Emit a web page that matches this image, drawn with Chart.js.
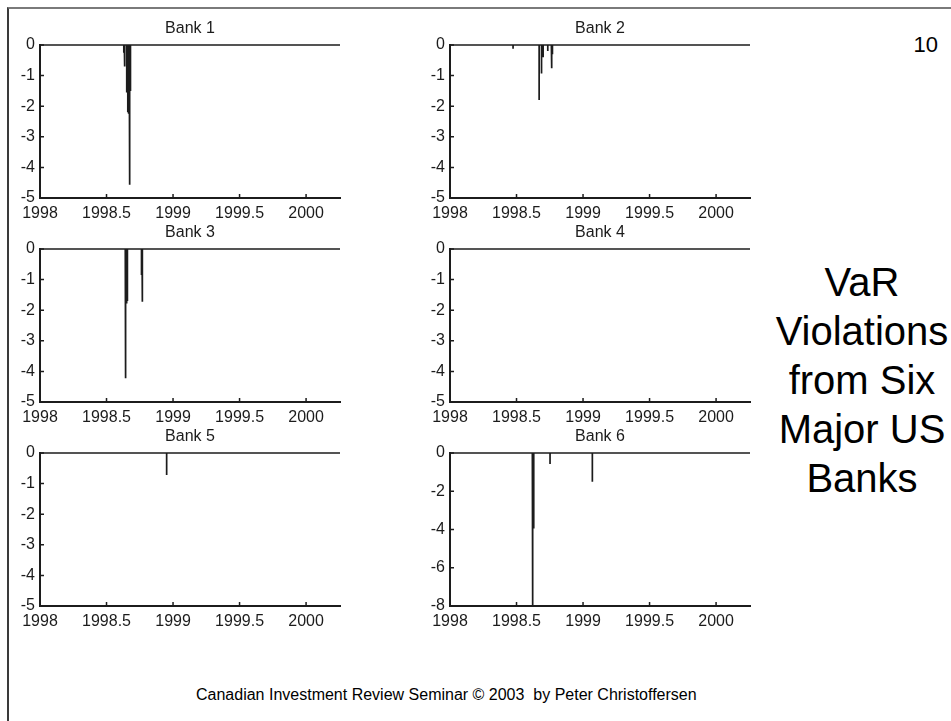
<!DOCTYPE html>
<html>
<head>
<meta charset="utf-8">
<title>VaR Violations from Six Major US Banks</title>
<script src="https://cdn.jsdelivr.net/npm/chart.js@4/dist/chart.umd.min.js"></script>
<style>
  html, body { margin: 0; padding: 0; background: #fff; }
  body { width: 951px; height: 721px; position: relative; overflow: hidden;
         font-family: "Liberation Sans", Arial, Helvetica, sans-serif; color: #000; }
  .frame { position: absolute; left: 7px; top: 7px; width: 1000px; height: 800px;
           border-top: 2px solid #7a7a7a; border-left: 2px solid #3a3a3a; }
  .panel { position: absolute; width: 350px; height: 207px; }
  .pageno { position: absolute; left: 880px; width: 58px; top: 34px; font-size: 22px;
            line-height: 22px; text-align: right; }
  .heading { position: absolute; left: 762px; width: 200px; top: 258px; font-size: 40px;
             line-height: 49px; text-align: center; }
  .footer { position: absolute; left: 196px; top: 686px; font-size: 16px; line-height: 18px;
            white-space: pre; }
</style>
</head>
<body>
<div class="frame"></div>
<div class="pageno">10</div>
<div class="heading">VaR<br>Violations<br>from Six<br>Major US<br>Banks</div>
<div class="footer">Canadian Investment Review Seminar © 2003  by Peter Christoffersen</div>

<canvas id="bank1" class="panel" width="350" height="207" style="left:0px;top:15px"></canvas>
<canvas id="bank2" class="panel" width="350" height="207" style="left:410px;top:15px"></canvas>
<canvas id="bank3" class="panel" width="350" height="207" style="left:0px;top:219px"></canvas>
<canvas id="bank4" class="panel" width="350" height="207" style="left:410px;top:219px"></canvas>
<canvas id="bank5" class="panel" width="350" height="207" style="left:0px;top:423px"></canvas>
<canvas id="bank6" class="panel" width="350" height="207" style="left:410px;top:423px"></canvas>

<script>
// Sample period (fractional years) and axis ticks
const sampleStart = 1998.0;
const sampleEnd = 2000.255;
const xTicks = [1998, 1998.5, 1999, 1999.5, 2000];
const yTicksFive = [-5, -4, -3, -2, -1, 0];
const yTicksEight = [-8, -6, -4, -2, 0];

// Days on which the trading loss exceeded the reported VaR, and the size of the violation
const bank1Dates  = [1998.630, 1998.634, 1998.638, 1998.652, 1998.660, 1998.664, 1998.668, 1998.671, 1998.676, 1998.680];
const bank1Values = [-0.25, -0.70, -0.45, -1.55, -2.20, -1.90, -2.25, -4.57, -2.20, -1.50];

const bank2Dates  = [1998.474, 1998.670, 1998.688, 1998.700, 1998.735, 1998.762, 1998.766, 1998.770];
const bank2Values = [-0.12, -1.80, -0.93, -0.40, -0.20, -0.35, -0.76, -0.30];

const bank3Dates  = [1998.641, 1998.645, 1998.649, 1998.653, 1998.657, 1998.763, 1998.767, 1998.771];
const bank3Values = [-1.80, -4.22, -1.75, -1.78, -1.70, -0.85, -1.72, -0.80];

const bank4Dates  = [];
const bank4Values = [];

const bank5Dates  = [1998.952];
const bank5Values = [-0.72];

const bank6Dates  = [1998.619, 1998.623, 1998.627, 1998.631, 1998.752, 1999.070];
const bank6Values = [-3.95, -7.95, -3.90, -3.95, -0.57, -1.50];

const bankNames = ['Bank 1', 'Bank 2', 'Bank 3', 'Bank 4', 'Bank 5', 'Bank 6'];

const FONT = '"Liberation Sans", Arial, Helvetica, sans-serif';
const INK = '#1c1c1c';

// Daily violation series: zero everywhere except on the violation days
function violationSeries(dates, values) {
  const order = dates.map((d, i) => i).sort((a, b) => dates[a] - dates[b]);
  const pts = [{ x: sampleStart, y: 0 }];
  order.forEach(i => {
    pts.push({ x: dates[i], y: 0 });
    pts.push({ x: dates[i], y: values[i] });
    pts.push({ x: dates[i], y: 0 });
  });
  pts.push({ x: sampleEnd, y: 0 });
  return pts;
}

// Short tick marks drawn inward from the left and bottom axes
const inwardTicks = {
  id: 'inwardTicks',
  afterDatasetsDraw(chart) {
    const { ctx, chartArea, scales } = chart;
    ctx.save();
    ctx.strokeStyle = INK;
    ctx.lineWidth = 1.5;
    ctx.beginPath();
    scales.x.ticks.forEach(t => {
      const px = scales.x.getPixelForValue(t.value);
      ctx.moveTo(px, chartArea.bottom);
      ctx.lineTo(px, chartArea.bottom - 4);
    });
    scales.y.ticks.forEach(t => {
      const py = scales.y.getPixelForValue(t.value);
      ctx.moveTo(chartArea.left, py);
      ctx.lineTo(chartArea.left + 4, py);
    });
    ctx.stroke();
    ctx.restore();
  }
};

function makePanel(id, name, dates, values, yTicks) {
  new Chart(document.getElementById(id), {
    type: 'line',
    data: {
      datasets: [{
        label: name,
        data: violationSeries(dates, values),
        borderColor: INK,
        borderWidth: 1.7,
        pointRadius: 0,
        tension: 0,
        fill: false,
        clip: false
      }]
    },
    options: {
      responsive: false,
      animation: false,
      devicePixelRatio: 1,
      layout: { padding: { left: 0, right: 10, top: 0, bottom: 0 }, autoPadding: false },
      plugins: {
        legend: { display: false },
        tooltip: { enabled: false },
        title: {
          display: true,
          text: name,
          fullSize: false,
          color: INK,
          font: { family: FONT, size: 16, weight: 'normal', lineHeight: 1.25 },
          padding: { top: 4, bottom: 6 }
        }
      },
      scales: {
        x: {
          type: 'linear',
          min: sampleStart,
          max: sampleEnd,
          afterBuildTicks: s => { s.ticks = xTicks.map(v => ({ value: v })); },
          afterFit: s => { s.height = 24; },
          grid: { display: true, drawOnChartArea: false, drawTicks: false },
          border: { display: true, color: INK, width: 2 },
          ticks: {
            color: INK,
            padding: 6,
            maxRotation: 0,
            autoSkip: false,
            font: { family: FONT, size: 16 },
            callback: v => String(v)
          }
        },
        y: {
          type: 'linear',
          min: yTicks[0],
          max: yTicks[yTicks.length - 1],
          afterBuildTicks: s => { s.ticks = yTicks.map(v => ({ value: v })); },
          afterFit: s => { s.width = 40; },
          grid: { display: true, drawOnChartArea: false, drawTicks: false },
          border: { display: true, color: INK, width: 2 },
          ticks: {
            color: INK,
            padding: 5,
            autoSkip: false,
            font: { family: FONT, size: 16 },
            callback: v => String(v)
          }
        }
      }
    },
    plugins: [inwardTicks]
  });
}

makePanel('bank1', bankNames[0], bank1Dates, bank1Values, yTicksFive);
makePanel('bank2', bankNames[1], bank2Dates, bank2Values, yTicksFive);
makePanel('bank3', bankNames[2], bank3Dates, bank3Values, yTicksFive);
makePanel('bank4', bankNames[3], bank4Dates, bank4Values, yTicksFive);
makePanel('bank5', bankNames[4], bank5Dates, bank5Values, yTicksFive);
makePanel('bank6', bankNames[5], bank6Dates, bank6Values, yTicksEight);
</script>
</body>
</html>
